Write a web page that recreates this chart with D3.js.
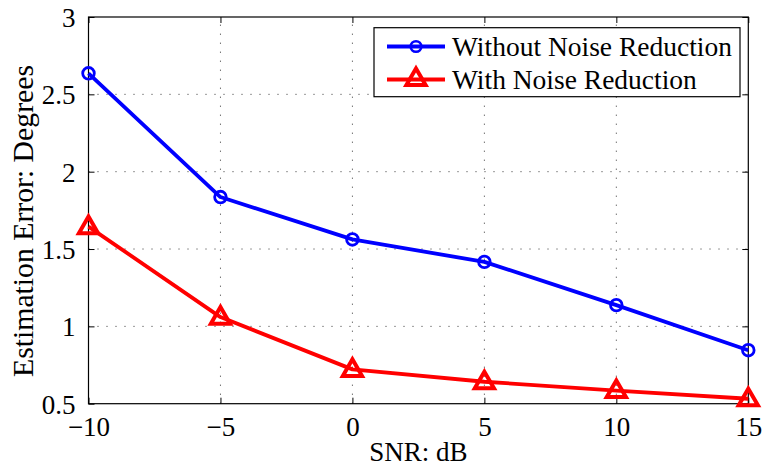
<!DOCTYPE html>
<html><head><meta charset="utf-8">
<script src="https://cdn.jsdelivr.net/npm/d3@7"></script>
<style>body{margin:0;background:#fff}svg{display:block}text{font-family:"Liberation Serif","Times New Roman",serif;fill:#000}</style>
</head><body><svg id="c" width="762" height="467"></svg>
<script>
const snr = [-10, -5, 0, 5, 10, 15];
const withoutNR = [2.636, 1.836, 1.562, 1.417, 1.137, 0.846];
const withNR = [1.645, 1.06, 0.722, 0.642, 0.585, 0.532];
const xTicks = [-10, -5, 0, 5, 10, 15];
const yTicks = [0.5, 1, 1.5, 2, 2.5, 3];
const seriesNames = ["Without Noise Reduction", "With Noise Reduction"];

const L = 88.5, R = 748.3, T = 17, B = 403.7;
const FS = 27;
const svg = d3.select("#c");
const x = d3.scaleLinear().domain([-10, 15]).range([L, R]);
const y = d3.scaleLinear().domain([0.5, 3]).range([B, T]);
const fmtX = d => (d < 0 ? "\u2212" + Math.abs(d) : String(d));

// grid
const g = svg.append("g");
g.selectAll(".gx").data(xTicks.slice(1, -1)).enter().append("line")
  .attr("x1", d => x(d)).attr("x2", d => x(d)).attr("y1", B).attr("y2", T)
  .attr("stroke", "#333").attr("stroke-width", 1).attr("stroke-dasharray", "1,8");
g.selectAll(".gy").data(yTicks.slice(1, -1)).enter().append("line")
  .attr("y1", d => y(d)).attr("y2", d => y(d)).attr("x1", L).attr("x2", R)
  .attr("stroke", "#333").attr("stroke-width", 1).attr("stroke-dasharray", "1,8");

// axes
const tl = 6;
svg.append("g").attr("transform", `translate(0,${B})`)
  .call(d3.axisBottom(x).tickValues(xTicks).tickFormat(fmtX).tickSizeInner(-tl).tickSizeOuter(0).tickPadding(13))
  .call(a => { a.select(".domain").remove(); a.selectAll("text").attr("font-size", FS).attr("dy", "0.71em"); });
svg.append("g").attr("transform", `translate(0,${T})`)
  .call(d3.axisTop(x).tickValues(xTicks).tickFormat("").tickSizeInner(-tl).tickSizeOuter(0))
  .call(a => a.select(".domain").remove());
svg.append("g").attr("transform", `translate(${L},0)`)
  .call(d3.axisLeft(y).tickValues(yTicks).tickFormat(d => String(d)).tickSizeInner(-tl).tickSizeOuter(0).tickPadding(13))
  .call(a => { a.select(".domain").remove(); a.selectAll("text").attr("font-size", FS).attr("dy", "0.35em"); });
svg.append("g").attr("transform", `translate(${R},0)`)
  .call(d3.axisRight(y).tickValues(yTicks).tickFormat("").tickSizeInner(-tl).tickSizeOuter(0))
  .call(a => a.select(".domain").remove());
svg.selectAll(".tick line").attr("stroke", "#000");
svg.selectAll(".tick text").attr("font-family", "Liberation Serif").attr("fill", "#000");
svg.append("rect").attr("x", L).attr("y", T).attr("width", R - L).attr("height", B - T)
  .attr("fill", "none").attr("stroke", "#000").attr("stroke-width", 1.2);

// labels
svg.append("text").attr("x", (L + R) / 2).attr("y", 461).attr("text-anchor", "middle")
  .attr("font-size", FS).text("SNR: dB");
const yl = svg.append("text").attr("transform", `translate(33,221) rotate(-90)`).attr("text-anchor", "middle")
  .attr("font-size", FS).text("Estimation Error: Degrees");
const w0 = yl.node().getComputedTextLength();
yl.attr("font-size", FS * 312 / w0);

// series
const line = d3.line().x((d, i) => x(snr[i])).y(d => y(d));
const tri = d3.symbol().type(d3.symbolTriangle).size(160);
function drawSeries(vals, color, marker) {
  svg.append("path").datum(vals).attr("d", line).attr("fill", "none")
    .attr("stroke", color).attr("stroke-width", 3.8).attr("stroke-linejoin", "round");
  if (marker === "o") {
    svg.selectAll(null).data(vals).enter().append("circle")
      .attr("cx", (d, i) => x(snr[i])).attr("cy", d => y(d)).attr("r", 5.8)
      .attr("fill", "none").attr("stroke", color).attr("stroke-width", 2.8);
  } else {
    svg.selectAll(null).data(vals).enter().append("path")
      .attr("transform", (d, i) => `translate(${x(snr[i])},${y(d) + 1})`).attr("d", tri)
      .attr("fill", "none").attr("stroke", color).attr("stroke-width", 4).attr("stroke-linejoin", "miter");
  }
}
drawSeries(withoutNR, "#0000ff", "o");
drawSeries(withNR, "#ff0000", "^");

// legend
const lg = svg.append("g");
lg.append("rect").attr("x", 374).attr("y", 27.7).attr("width", 366).attr("height", 69)
  .attr("fill", "#fff").attr("stroke", "#000").attr("stroke-width", 1.2);
const rows = [{ n: seriesNames[0], c: "#0000ff", m: "o", yy: 46.5 }, { n: seriesNames[1], c: "#ff0000", m: "^", yy: 79.5 }];
rows.forEach(r => {
  lg.append("line").attr("x1", 387).attr("x2", 445).attr("y1", r.yy).attr("y2", r.yy)
    .attr("stroke", r.c).attr("stroke-width", 3.8);
  if (r.m === "o") lg.append("circle").attr("cx", 416).attr("cy", r.yy).attr("r", 5.3)
    .attr("fill", "none").attr("stroke", r.c).attr("stroke-width", 2.6);
  else lg.append("path").attr("transform", `translate(416,${r.yy})`).attr("d", tri)
    .attr("fill", "none").attr("stroke", r.c).attr("stroke-width", 4);
  lg.append("text").attr("x", 452).attr("y", r.yy + 9.5).attr("font-size", FS).text(r.n);
});
const lt = lg.selectAll("text");
const lw = lt.nodes()[0].getComputedTextLength();
lt.attr("font-size", FS * 280 / lw);
</script></body></html>
